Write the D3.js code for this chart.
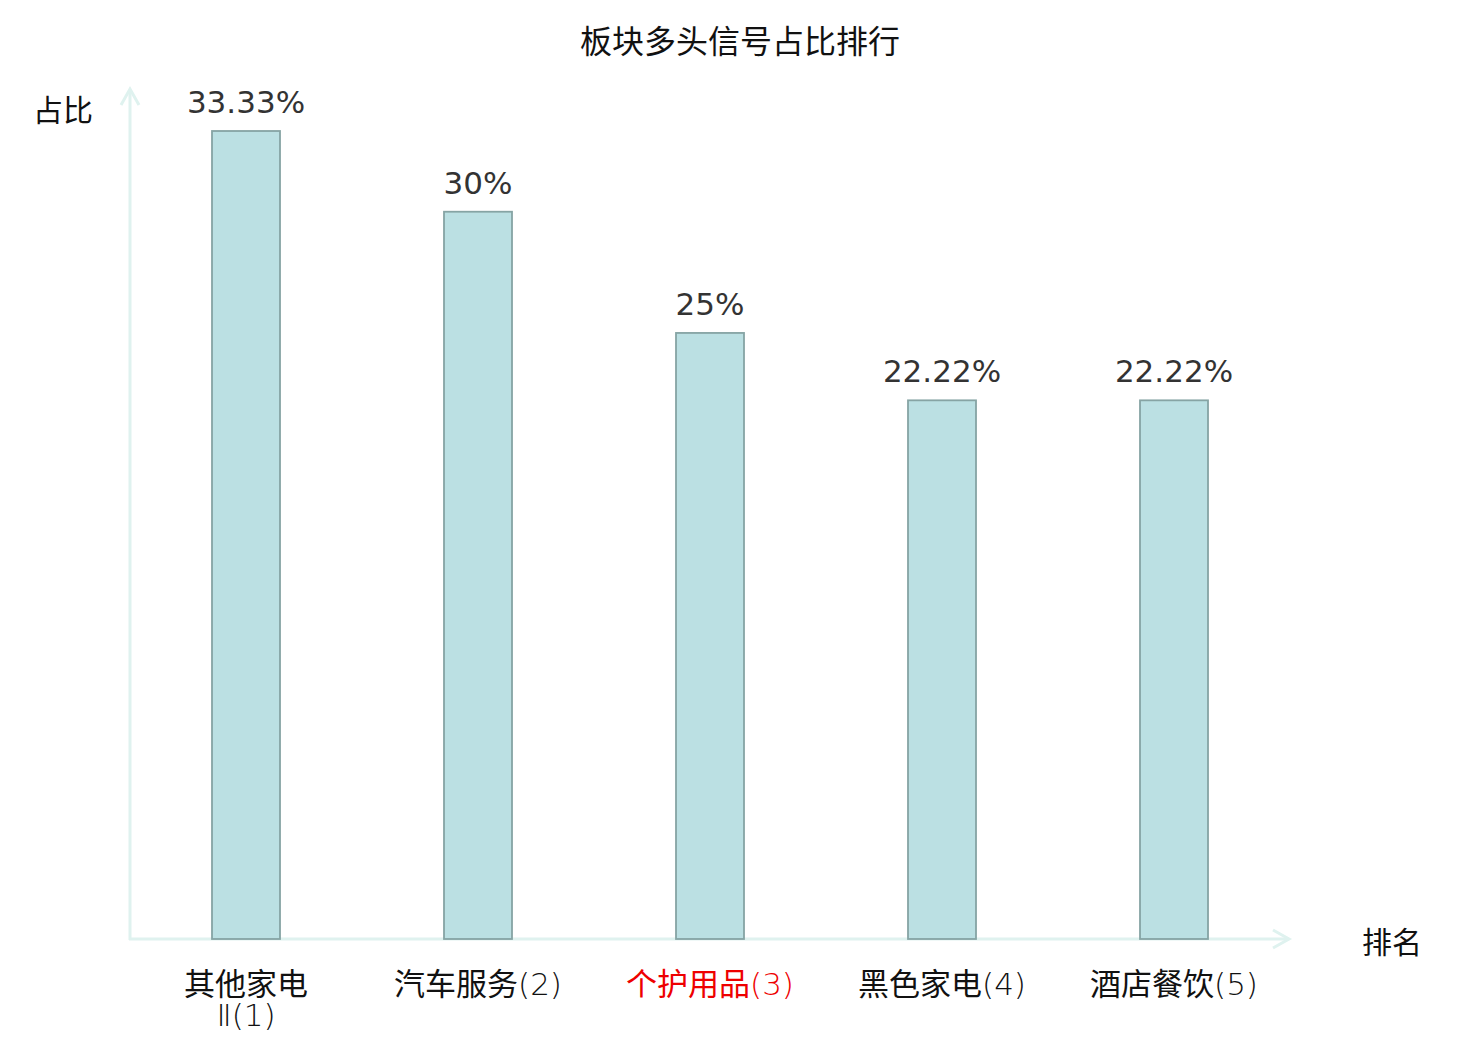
<!DOCTYPE html>
<html>
<head>
<meta charset="utf-8">
<script src="https://cdn.jsdelivr.net/npm/d3@7"></script>
<style>
  body { margin: 0; background: #fff; }
  text { font-family: "DejaVu Sans", "Noto Sans CJK SC", sans-serif; }
</style>
</head>
<body>
<div id="chart"></div>
<script>
// data
const categories = ["其他家电Ⅱ(1)", "汽车服务(2)", "个护用品(3)", "黑色家电(4)", "酒店餐饮(5)"];
const values = [33.33, 30, 25, 22.22, 22.22];
const valueLabels = ["33.33%", "30%", "25%", "22.22%", "22.22%"];
const highlightIndex = 2;

const width = 1480, height = 1040;
const axisColor = "#dff2ef";

const svg = d3.select("#chart")
  .append("svg")
  .attr("width", width)
  .attr("height", height);

const x = d3.scaleBand()
  .domain(categories)
  .range([130, 1290]);

const y = d3.scaleLinear()
  .domain([0, d3.max(values)])
  .range([939, 131]);

const barW = 68;

// title
svg.append("text")
  .attr("x", 740)
  .attr("y", 53)
  .attr("text-anchor", "middle")
  .attr("font-size", 32)
  .attr("fill", "#111")
  .text("板块多头信号占比排行");

// axes (arrows)
const axis = svg.append("g")
  .attr("stroke", axisColor)
  .attr("stroke-width", 3)
  .attr("fill", "none");

axis.append("line")
  .attr("x1", 130).attr("y1", y(0) + 1)
  .attr("x2", 130).attr("y2", 89);
axis.append("path")
  .attr("d", "M121,105L130,89L139,105");

axis.append("line")
  .attr("x1", 129).attr("y1", y(0))
  .attr("x2", 1289).attr("y2", y(0));
axis.append("path")
  .attr("d", "M1273,930L1289,939L1273,948");

// axis names
svg.append("text")
  .attr("x", 63).attr("y", 121)
  .attr("text-anchor", "middle")
  .attr("font-size", 30)
  .attr("fill", "#111")
  .text("占比");

svg.append("text")
  .attr("x", 1392).attr("y", 953)
  .attr("text-anchor", "middle")
  .attr("font-size", 30)
  .attr("fill", "#111")
  .text("排名");

// bars
svg.selectAll("rect.bar")
  .data(values)
  .enter().append("rect")
  .attr("class", "bar")
  .attr("x", (d, i) => x(categories[i]) + x.bandwidth() / 2 - barW / 2)
  .attr("y", d => y(d))
  .attr("width", barW)
  .attr("height", d => y(0) - y(d))
  .attr("fill", "#bbe0e3")
  .attr("stroke", "#86a4a4")
  .attr("stroke-width", 1.8);

// value labels
svg.selectAll("text.val")
  .data(values)
  .enter().append("text")
  .attr("class", "val")
  .attr("x", (d, i) => x(categories[i]) + x.bandwidth() / 2)
  .attr("y", d => y(d) - 18)
  .attr("text-anchor", "middle")
  .attr("font-size", 31)
  .attr("fill", "#333")
  .text((d, i) => valueLabels[i]);

// category labels: CJK chars may break, latin runs stay together and are drawn light
const isCJK = s => /[\u4e00-\u9fff]/.test(s);
const maxLabelW = 180;
categories.forEach((c, i) => {
  const cx = x(c) + x.bandwidth() / 2;
  const tokens = c.match(/[\u4e00-\u9fff]|[^\u4e00-\u9fff]+/g);

  // measure to split into lines
  const probe = svg.append("text").attr("font-size", 31);
  const lines = [[]];
  tokens.forEach(tok => {
    const cur = lines[lines.length - 1];
    probe.text(cur.concat(tok).join(""));
    if (probe.node().getComputedTextLength() > maxLabelW && cur.length) {
      lines.push([tok]);
    } else {
      cur.push(tok);
    }
  });
  probe.remove();

  const t = svg.append("text")
    .attr("y", 995)
    .attr("text-anchor", "middle")
    .attr("font-size", 31)
    .attr("fill", i === highlightIndex ? "#ee0000" : "#111");
  lines.forEach((ln, li) => {
    ln.forEach((tok, ti) => {
      const ts = t.append("tspan")
        .attr("font-family", isCJK(tok) ? "Noto Sans CJK SC" : "DejaVu Sans")
        .attr("font-weight", isCJK(tok) ? 400 : 200)
        .text(tok);
      if (ti === 0) ts.attr("x", cx).attr("dy", li === 0 ? 0 : 31);
    });
  });
});
</script>
</body>
</html>
